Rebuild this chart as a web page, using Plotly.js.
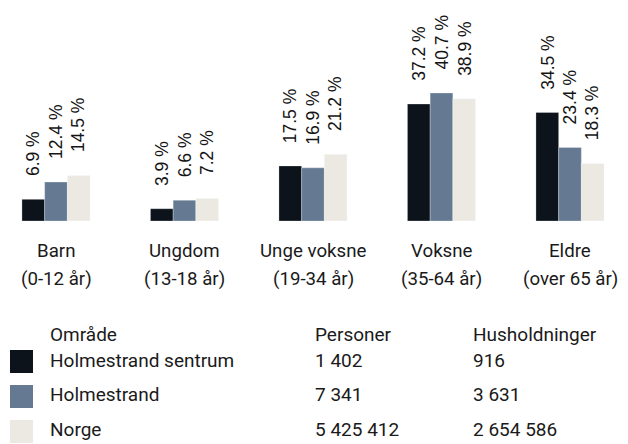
<!DOCTYPE html>
<html>
<head>
<meta charset="utf-8">
<script src="https://cdn.plot.ly/plotly-3.0.1.min.js"></script>
<style>html,body{margin:0;padding:0;background:#fff;}#chart{width:628px;height:444px;}</style>
</head>
<body>
<div id="chart"></div>
<script>
const categories = ['Barn', 'Ungdom', 'Unge voksne', 'Voksne', 'Eldre'];
const subLabels = ['(0-12 år)', '(13-18 år)', '(19-34 år)', '(35-64 år)', '(over 65 år)'];
const seriesNames = ['Holmestrand sentrum', 'Holmestrand', 'Norge'];
const sentrum = [6.9, 3.9, 17.5, 37.2, 34.5];
const holmestrand = [12.4, 6.6, 16.9, 40.7, 23.4];
const norge = [14.5, 7.2, 21.2, 38.9, 18.3];
const personer = ['1 402', '7 341', '5 425 412'];
const husholdninger = ['916', '3 631', '2 654 586'];
const tableHeaders = ['Område', 'Personer', 'Husholdninger'];

const colors = ['#0c131b', '#657a92', '#ebe9e2'];
const series = [sentrum, holmestrand, norge];
const W = 628, H = 444, plotBottom = 221;
const bargap = 0.47;
const barW = (1 - bargap) / 3;

const traces = series.map((vals, k) => ({
  type: 'bar',
  name: seriesNames[k],
  x: categories.map((c, i) => i),
  y: vals,
  marker: {color: colors[k], line: {color: 'rgba(255,255,255,0.35)', width: 0.8}},
  hoverinfo: 'none',
  showlegend: false
}));

const annotations = [];
const labelFont = {family: 'Liberation Sans, Arial, sans-serif', size: 17.5, color: '#141414'};
series.forEach((vals, k) => {
  vals.forEach((v, i) => {
    annotations.push({
      x: i + (k - 1) * barW, y: v, xref: 'x', yref: 'y',
      text: v.toFixed(1) + ' %', textangle: -90, showarrow: false,
      xanchor: 'center', yanchor: 'bottom', yshift: 23,
      borderpad: 0, borderwidth: 0, font: labelFont
    });
  });
});

const catFont = {family: 'Roboto, sans-serif', size: 18.7, color: '#1a1a1a'};
const py = p => (plotBottom - p) / plotBottom;
categories.forEach((c, i) => {
  annotations.push({x: i, y: py(251), xref: 'x', yref: 'paper', text: c, showarrow: false,
    xanchor: 'center', yanchor: 'middle', borderpad: 0, borderwidth: 0, font: catFont});
  annotations.push({x: i, y: py(278.5), xref: 'x', yref: 'paper', text: subLabels[i], showarrow: false,
    xanchor: 'center', yanchor: 'middle', borderpad: 0, borderwidth: 0, font: catFont});
});

const tFont = {family: 'Roboto, sans-serif', size: 19, color: '#1a1a1a'};
const colX = [49.5, 315, 472.5];
const rowY = [334.5, 360.2, 394.5, 429.2];
tableHeaders.forEach((h, j) => {
  annotations.push({x: colX[j] / W, y: py(rowY[0]), xref: 'paper', yref: 'paper', text: h, showarrow: false,
    xanchor: 'left', yanchor: 'middle', borderpad: 0, borderwidth: 0, font: tFont});
});
const shapes = [];
seriesNames.forEach((n, r) => {
  const cells = [n, personer[r], husholdninger[r]];
  cells.forEach((t, j) => {
    annotations.push({x: colX[j] / W, y: py(rowY[r + 1]), xref: 'paper', yref: 'paper', text: t, showarrow: false,
      xanchor: 'left', yanchor: 'middle', borderpad: 0, borderwidth: 0, font: tFont});
  });
  const top = 350 + r * 35;
  shapes.push({type: 'rect', xref: 'paper', yref: 'paper', x0: 10 / W, x1: 33 / W,
    y0: py(top + 23), y1: py(top), fillcolor: colors[r], line: {width: 0}});
});

const layout = {
  width: W, height: H,
  margin: {l: 0, r: 0, t: 0, b: H - plotBottom, pad: 0},
  paper_bgcolor: '#ffffff', plot_bgcolor: '#ffffff',
  barmode: 'group', bargap: bargap, bargroupgap: 0,
  xaxis: {range: [-56 / 128.5, (W - 56) / 128.5], showticklabels: false, showgrid: false,
    zeroline: false, showline: false, ticks: '', fixedrange: true},
  yaxis: {range: [0, plotBottom / 3.145], visible: false, fixedrange: true},
  annotations: annotations,
  shapes: shapes,
  showlegend: false
};

Plotly.newPlot('chart', traces, layout, {displayModeBar: false, staticPlot: true});
</script>
</body>
</html>
